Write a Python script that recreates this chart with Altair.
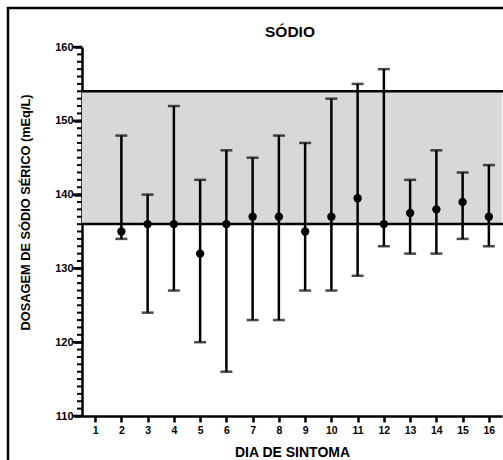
import altair as alt
import pandas as pd

# Serum sodium by symptom day: mean with range (min–max)
days = [2, 3, 4, 5, 6, 7, 8, 9, 10, 11, 12, 13, 14, 15, 16]
means = [135, 136, 136, 132, 136, 137, 137, 135, 137, 139.5, 136, 137.5, 138, 139, 137]
lows = [134, 124, 127, 120, 116, 123, 123, 127, 127, 129, 133, 132, 132, 134, 133]
highs = [148, 140, 152, 142, 146, 145, 148, 147, 153, 155, 157, 142, 146, 143, 144]

# Reference range for serum sodium (mEq/L)
ref_low = 136
ref_high = 154

day_ticks = list(range(1, 17))
y_major = list(range(110, 161, 10))
y_minor = list(range(110, 161))

title_text = "SÓDIO"

W, H = 420, 369
FONT = "Liberation Sans"

df = pd.DataFrame({"dia": days, "media": means, "min": lows, "max": highs})
ref_df = pd.DataFrame({"v": [ref_low, ref_high]})
band_df = pd.DataFrame({"lo": [ref_low], "hi": [ref_high]})
minor_df = pd.DataFrame({"t": y_minor})
major_df = pd.DataFrame({"t": y_major})

x_scale = alt.Scale(domain=[0.5, 16.5], nice=False, zero=False)
y_scale = alt.Scale(domain=[110, 160], nice=False, zero=False)

x_axis = alt.Axis(
    values=day_ticks,
    title="DIA DE SINTOMA",
    titleFont=FONT, titleFontSize=14, titleFontWeight="bold", titleColor="black",
    titleY=40, titleBaseline="alphabetic",
    labelFont=FONT, labelFontSize=10.5, labelFontWeight="bold", labelColor="black",
    labelPadding=3, labelFlush=False,
    ticks=True, tickSize=6, tickWidth=2.5, tickColor="black", tickOpacity=1,
    domainColor="black", domainWidth=2.5,
    grid=False,
)

# labelled axis with major ticks every 10 mEq/L
y_axis = alt.Axis(
    orient="left",
    values=y_major,
    title="DOSAGEM DE SÓDIO SÉRICO (mEq/L)",
    titleFont=FONT, titleFontSize=12.8, titleFontWeight="bold", titleColor="black",
    titleX=-57, titleY=165, titleAlign="center", titleBaseline="middle",
    labelFont=FONT, labelFontSize=11, labelFontWeight="bold", labelColor="black",
    labelPadding=1, labelFlush=False,
    ticks=True, tickSize=8, tickWidth=2.5, tickColor="black", tickOpacity=1,
    domainColor="black", domainWidth=2.5,
    grid=False, offset=0,
)

dummy = alt.Data(values=[{}])

frame_top = alt.Chart(dummy).mark_rule(color="black", strokeWidth=2.5).encode(
    x=alt.value(-75), x2=alt.value(W + 10), y=alt.value(-39)
)
frame_left = alt.Chart(dummy).mark_rule(color="black", strokeWidth=2.5).encode(
    x=alt.value(-74), y=alt.value(-40), y2=alt.value(H + 60)
)

title = alt.Chart(dummy).mark_text(
    font=FONT, fontSize=15.5, fontWeight="bold", color="black",
    align="center", baseline="alphabetic",
).encode(x=alt.value(208), y=alt.value(-10), text=alt.value(title_text))

band = alt.Chart(band_df).mark_rect(color="#d8d8da").encode(
    x=alt.value(0), x2=alt.value(W),
    y=alt.Y("lo:Q", scale=y_scale, axis=y_axis), y2="hi:Q",
)

# minor and major tick marks along the y axis, placed by the y scale
minor_ticks = alt.Chart(minor_df).mark_rule(color="black", strokeWidth=2).encode(
    x=alt.value(-5), x2=alt.value(0),
    y=alt.Y("t:Q", scale=y_scale, axis=None),
)
major_ticks = alt.Chart(major_df).mark_rule(color="black", strokeWidth=2.5).encode(
    x=alt.value(-9), x2=alt.value(0),
    y=alt.Y("t:Q", scale=y_scale, axis=None),
)

ref_rules = alt.Chart(ref_df).mark_rule(color="black", strokeWidth=2.5).encode(
    x=alt.value(0), x2=alt.value(W + 2),
    y=alt.Y("v:Q", scale=y_scale, axis=None),
)

bars = alt.Chart(df).mark_rule(color="black", strokeWidth=2.5).encode(
    x=alt.X("dia:Q", scale=x_scale, axis=x_axis),
    y=alt.Y("min:Q", scale=y_scale, axis=None),
    y2="max:Q",
)

cap_hi = alt.Chart(df).mark_tick(color="black", orient="horizontal", size=12, thickness=2.5).encode(
    x=alt.X("dia:Q", scale=x_scale, axis=x_axis),
    y=alt.Y("max:Q", scale=y_scale, axis=None),
)
cap_lo = alt.Chart(df).mark_tick(color="black", orient="horizontal", size=12, thickness=2.5).encode(
    x=alt.X("dia:Q", scale=x_scale, axis=x_axis),
    y=alt.Y("min:Q", scale=y_scale, axis=None),
)

points = alt.Chart(df).mark_circle(color="black", opacity=1, size=70).encode(
    x=alt.X("dia:Q", scale=x_scale, axis=x_axis),
    y=alt.Y("media:Q", scale=y_scale, axis=None),
)

chart = alt.layer(
    band, minor_ticks, major_ticks, ref_rules, bars, cap_hi, cap_lo, points,
    frame_top, frame_left, title
).resolve_axis(y="independent").properties(
    width=W,
    height=H,
    autosize=alt.AutoSizeParams(type="none"),
    padding={"left": 82, "top": 47, "right": 1, "bottom": 44},
    background="white",
).configure_view(stroke=None)

chart.save("out.html", embed_options={"renderer": "svg", "actions": False})
